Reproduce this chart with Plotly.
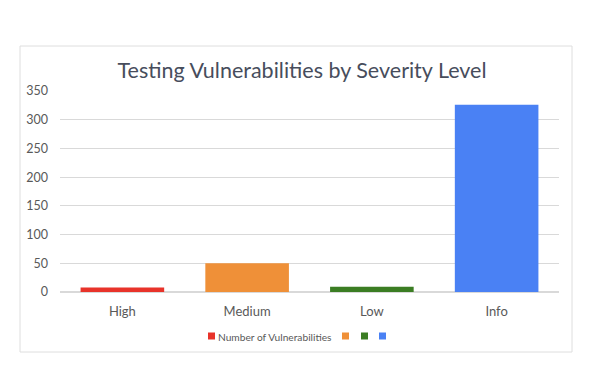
import plotly.graph_objects as go

categories = ["High", "Medium", "Low", "Info"]
values = [8, 50, 9, 326]
bar_colors = ["#e8332a", "#ef9038", "#3b7d23", "#4a81f4"]
series_name = "Number of Vulnerabilities"
y_ticks = [0, 50, 100, 150, 200, 250, 300, 350]

W, H = 600, 369
OFF = 8  # page body margin
L, R, T, B = 60 - OFF, 600 - 559 + OFF, 91 - OFF, 369 - 292 + OFF
PW, PH = W - L - R, H - T - B


def px(x):
    return (x - OFF - L) / PW


def py(y):
    return (H - B - (y - OFF)) / PH


fig = go.Figure()
fig.add_trace(go.Bar(
    x=categories, y=values, marker=dict(color=bar_colors, line=dict(width=0)),
    name=series_name, showlegend=False, width=0.67,
))

shapes = [dict(type="rect", xref="paper", yref="paper",
               x0=px(20), x1=px(572), y0=py(352), y1=py(46),
               line=dict(color="#dedede", width=1), fillcolor="rgba(0,0,0,0)",
               layer="below")]
leg_x = [208, 342, 361, 379]
for c, lx in zip(bar_colors, leg_x):
    shapes.append(dict(type="rect", xref="paper", yref="paper",
                       x0=px(lx), x1=px(lx + 7), y0=py(339.5), y1=py(332.5),
                       line=dict(width=0), fillcolor=c))

fig.update_layout(
    width=W, height=H,
    margin=dict(l=L, r=R, t=T, b=B),
    paper_bgcolor="white", plot_bgcolor="white",
    font=dict(family="Lato, sans-serif", color="#595959"),
    title=dict(text="Testing Vulnerabilities by Severity Level",
               x=(302 - OFF) / W, xanchor="center", y=1 - (70 - OFF) / H, yanchor="middle",
               yref="container", font=dict(size=21.5, color="#474d5c", family="Lato")),
    xaxis=dict(showgrid=False, showline=False, ticks="", tickfont=dict(size=13),
               ticklabelstandoff=10),
    yaxis=dict(range=[0, 350], tickvals=y_ticks, showgrid=True, gridcolor="#d9d9d9",
               gridwidth=1, zeroline=True, zerolinecolor="#d9d9d9", showline=False,
               ticks="", tickfont=dict(size=12.5), ticklabelstandoff=11),
    shapes=shapes,
    annotations=[dict(text=series_name, xref="paper", yref="paper",
                      x=px(216), y=py(336.5), xanchor="left", yanchor="middle",
                      showarrow=False, font=dict(size=10.2, color="#595959"))],
    bargap=0.33,
)

fig.write_html("out.html")
